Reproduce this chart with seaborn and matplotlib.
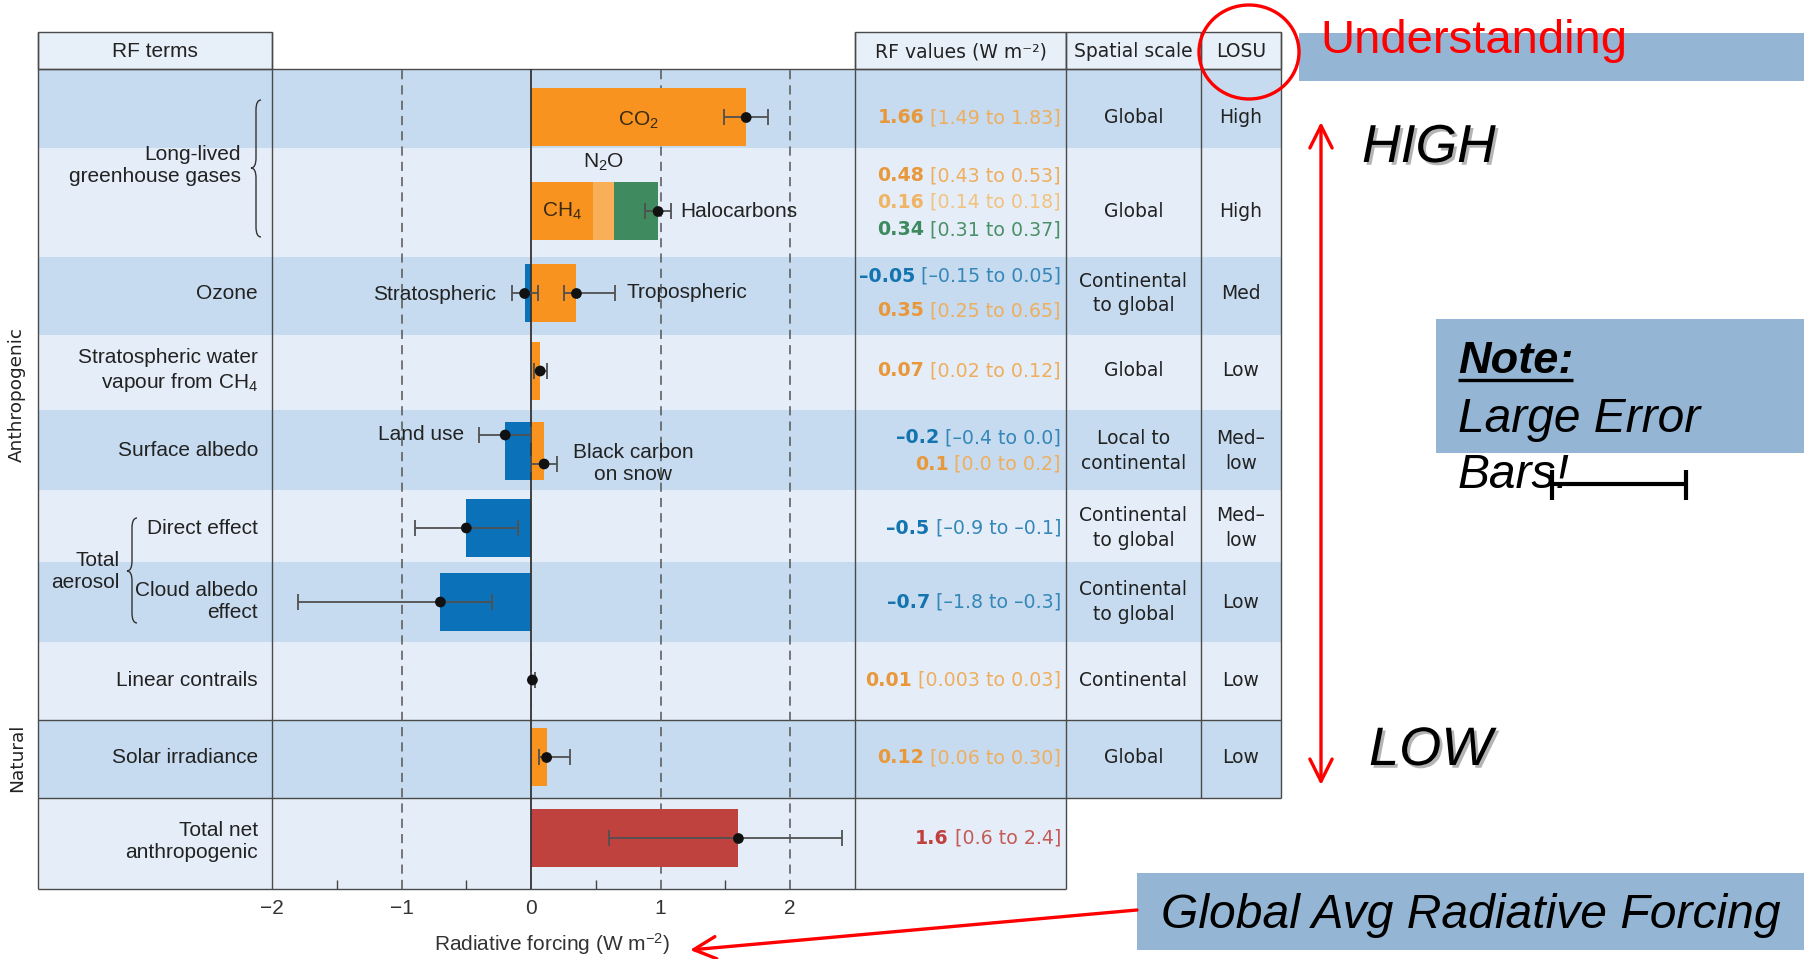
import matplotlib
matplotlib.use("Agg")
import matplotlib.pyplot as plt
from matplotlib.patches import Rectangle, Ellipse, FancyArrowPatch, PathPatch
from matplotlib.path import Path
import matplotlib.patheffects as pe
import numpy as np
import pandas as pd
import seaborn as sns

# ---------------------------------------------------------------- data
# Radiative forcing components (W m-2): best estimate with 90 % range
component = ["CO2", "CH4", "N2O", "Halocarbons", "Stratospheric ozone",
             "Tropospheric ozone", "Stratospheric water vapour", "Land use",
             "Black carbon on snow", "Aerosol direct effect",
             "Cloud albedo effect", "Linear contrails", "Solar irradiance",
             "Total net anthropogenic"]
rf_best = [1.66, 0.48, 0.16, 0.34, -0.05, 0.35, 0.07, -0.2, 0.1, -0.5, -0.7, 0.01, 0.12, 1.6]
rf_low = [1.49, 0.43, 0.14, 0.31, -0.15, 0.25, 0.02, -0.4, 0.0, -0.9, -1.8, 0.003, 0.06, 0.6]
rf_high = [1.83, 0.53, 0.18, 0.37, 0.05, 0.65, 0.12, 0.0, 0.2, -0.1, -0.3, 0.03, 0.30, 2.4]
rf_decimals = [2, 2, 2, 2, 2, 2, 2, 1, 1, 1, 1, 2, 2, 1]
row_of = [0, 1, 1, 1, 2, 2, 3, 4, 4, 5, 6, 7, 8, 9]
stacked_rows = [1]

row_terms = ["", "", "Ozone", "Stratospheric water\nvapour from CH$_4$", "Surface albedo",
             "Direct effect", "Cloud albedo\neffect", "Linear contrails",
             "Solar irradiance", "Total net\nanthropogenic"]
spatial_scale = ["Global", "Global", "Continental\nto global", "Global",
                 "Local to\ncontinental", "Continental\nto global",
                 "Continental\nto global", "Continental", "Global", ""]
losu = ["High", "High", "Med", "Low", "Med\u2013\nlow", "Med\u2013\nlow",
        "Low", "Low", "Low", ""]
x_ticks = [-2, -1, 0, 1, 2]

# ---------------------------------------------------------------- style
sns.set_theme(style="white")
SANS = ["Liberation Sans", "DejaVu Sans"]
VERD = ["DejaVu Sans"]
plt.rcParams["font.family"] = SANS
plt.rcParams["mathtext.fontset"] = "custom"
plt.rcParams["mathtext.rm"] = "Liberation Sans"
plt.rcParams["mathtext.it"] = "Liberation Sans:italic"
plt.rcParams["mathtext.bf"] = "Liberation Sans:bold"

bar_colors = {"CO2": "#f7931e", "CH4": "#f7931e", "N2O": "#f9ae58",
              "Halocarbons": "#3f8a5e", "Stratospheric ozone": "#0b72b9",
              "Tropospheric ozone": "#f7931e", "Stratospheric water vapour": "#f7931e",
              "Land use": "#0b72b9", "Black carbon on snow": "#f7931e",
              "Aerosol direct effect": "#0b72b9", "Cloud albedo effect": "#0b72b9",
              "Linear contrails": "#f7931e", "Solar irradiance": "#f7931e",
              "Total net anthropogenic": "#c0423f"}
text_colors = {"#f7931e": ("#e8983a", "#eeae5e"), "#f9ae58": ("#efb466", "#f2c27f"),
               "#3f8a5e": ("#3d8a5e", "#4a9068"), "#0b72b9": ("#1474b0", "#3587b8"),
               "#c0423f": ("#c0403e", "#c55a57")}
DARK_ROW, LIGHT_ROW, HEAD = "#c6dbef", "#e5eef8", "#e7eff9"
LINE = "#4a4a4a"
TXT = "#222222"

# ---------------------------------------------------------------- layout (pixels)
W, H = 1804, 959
X_LEFT, X_TERMS, X_VALUES, X_SCALE, X_LOSU, X_RIGHT = 38, 272, 855, 1066, 1201, 1281
Y_HEAD_TOP = 32
row_edges = [69, 148, 257, 335, 410, 490, 562, 642, 720, 798, 889]
bar_shift = [9, 9, -2.5, -1.5, 1, 2, 0, -1, -1.5, -5]
dot_shift = {"Land use": -16, "Black carbon on snow": 13}
text_line_gap = {1: 27, 2: 35, 4: 27}
BAR_H = 58

row_mid = [(a + b) / 2 for a, b in zip(row_edges[:-1], row_edges[1:])]
bar_mid = [m + s for m, s in zip(row_mid, bar_shift)]

fig = plt.figure(figsize=(W / 100, H / 100), dpi=100)
fig.patch.set_facecolor("white")

bg = fig.add_axes([0, 0, 1, 1], zorder=0)
bg.set_xlim(0, W)
bg.set_ylim(H, 0)
bg.axis("off")

ax = fig.add_axes([X_TERMS / W, 1 - row_edges[-1] / H, (X_VALUES - X_TERMS) / W,
                   (row_edges[-1] - row_edges[0]) / H], zorder=1)
ax.patch.set_alpha(0)

top = fig.add_axes([0, 0, 1, 1], zorder=2)
top.set_xlim(0, W)
top.set_ylim(H, 0)
top.axis("off")
top.patch.set_alpha(0)

# ---------------------------------------------------------------- table background
for r in range(len(row_edges) - 1):
    x_end = X_RIGHT if r < 9 else X_SCALE
    bg.add_patch(Rectangle((X_LEFT, row_edges[r]), x_end - X_LEFT,
                           row_edges[r + 1] - row_edges[r],
                           fc=DARK_ROW if r % 2 == 0 else LIGHT_ROW, ec="none"))

headers = [(X_LEFT, X_TERMS, "RF terms", SANS, 15),
           (X_VALUES, X_SCALE, "RF values (W m\u207b\u00b2)", VERD, 13.5),
           (X_SCALE, X_LOSU, "Spatial scale", VERD, 13.5),
           (X_LOSU, X_RIGHT, "LOSU", VERD, 13.5)]
for x0, x1, label, fam, fs in headers:
    bg.add_patch(Rectangle((x0, Y_HEAD_TOP), x1 - x0, row_edges[0] - Y_HEAD_TOP,
                           fc=HEAD, ec=LINE, lw=1.0))
    bg.text((x0 + x1) / 2, (Y_HEAD_TOP + row_edges[0]) / 2 + 1, label, ha="center",
            va="center", fontsize=fs, family=fam, color=TXT)

def hline(y, x0, x1):
    bg.plot([x0, x1], [y, y], color=LINE, lw=1.0, solid_capstyle="butt")

def vline(x, y0, y1):
    bg.plot([x, x], [y0, y1], color=LINE, lw=1.0, solid_capstyle="butt")

hline(row_edges[0], X_LEFT, X_RIGHT)
hline(row_edges[8], X_LEFT, X_RIGHT)
hline(row_edges[9], X_LEFT, X_RIGHT)
hline(row_edges[10], X_LEFT, X_SCALE)
for x in (X_LEFT, X_TERMS, X_VALUES, X_SCALE):
    vline(x, Y_HEAD_TOP, row_edges[10])
for x in (X_LOSU, X_RIGHT):
    vline(x, Y_HEAD_TOP, row_edges[9])

# ---------------------------------------------------------------- braces
def curly_brace(axis, x, y0, y1, w, ym=None, color="#333", lw=1.0):
    ym = (y0 + y1) / 2 if ym is None else ym
    r = min(2 * w, (y1 - y0) / 5)
    verts = [(x + w, y0), (x, y0), (x, y0 + r), (x, ym - r), (x, ym), (x - w, ym),
             (x, ym), (x, ym + r), (x, y1 - r), (x, y1), (x + w, y1)]
    codes = [Path.MOVETO, Path.CURVE3, Path.CURVE3, Path.LINETO, Path.CURVE3,
             Path.CURVE3, Path.CURVE3, Path.CURVE3, Path.LINETO, Path.CURVE3, Path.CURVE3]
    axis.add_patch(PathPatch(Path(verts, codes), fc="none", ec=color, lw=lw))

curly_brace(bg, 256, 100, 237, 5, ym=168)
curly_brace(bg, 132, 518, 623, 5, ym=571)

# ---------------------------------------------------------------- row labels
LABEL_FS = 15
bg.text(241, (row_edges[0] + row_edges[2]) / 2 + 2, "Long-lived\ngreenhouse gases",
        ha="right", va="center", multialignment="right", fontsize=LABEL_FS, color=TXT)
for r, term in enumerate(row_terms):
    if not term:
        continue
    y = bar_mid[r]
    if r == 9:
        y = row_mid[r] - 2
    bg.text(258, y, term, ha="right", va="center", multialignment="right",
            fontsize=LABEL_FS, color=TXT)
bg.text(120, 571, "Total\naerosol", ha="right", va="center", multialignment="right",
        fontsize=LABEL_FS, color=TXT)
bg.text(17, 394, "Anthropogenic", rotation=90, ha="center", va="center",
        fontsize=13.3, family=VERD, color=TXT)
bg.text(17, 758, "Natural", rotation=90, ha="center", va="center",
        fontsize=13.3, family=VERD, color=TXT)

# spatial scale and level of scientific understanding
for r in range(9):
    bg.text((X_SCALE + X_LOSU) / 2, bar_mid[r], spatial_scale[r], ha="center",
            va="center", multialignment="center", fontsize=13.5, family=VERD,
            color=TXT, linespacing=1.35)
    bg.text((X_LOSU + X_RIGHT) / 2, bar_mid[r], losu[r], ha="center",
            va="center", multialignment="center", fontsize=13.5, family=VERD,
            color=TXT, linespacing=1.35)

# ---------------------------------------------------------------- bars
stack_left = []
running = {}
for i, comp in enumerate(component):
    r = row_of[i]
    if r in stacked_rows:
        stack_left.append(running.get(r, 0.0))
        running[r] = running.get(r, 0.0) + rf_best[i]
    else:
        stack_left.append(0.0)

for i, comp in enumerate(component):
    ax.barh(bar_mid[row_of[i]], rf_best[i], left=stack_left[i], height=BAR_H,
            color=bar_colors[comp], lw=0, zorder=2)

# reference lines
for xv in x_ticks:
    if xv in (-2, 0):
        continue
    ax.axvline(xv, color="#555555", lw=1.1, ls=(0, (6, 4)), zorder=1)
ax.axvline(0, color="#333333", lw=1.3, zorder=3)

# uncertainty ranges and best-estimate dots
err_x, err_lo, err_hi, err_y = [], [], [], []
for i, comp in enumerate(component):
    r = row_of[i]
    if r in stacked_rows:
        continue
    err_x.append(rf_best[i])
    err_lo.append(rf_low[i])
    err_hi.append(rf_high[i])
    err_y.append(bar_mid[r] + dot_shift.get(comp, 0))
for r in stacked_rows:
    idx = [i for i in range(len(component)) if row_of[i] == r]
    err_x.append(sum(rf_best[i] for i in idx))
    err_lo.append(sum(rf_low[i] for i in idx))
    err_hi.append(sum(rf_high[i] for i in idx))
    err_y.append(bar_mid[r])
err_x, err_lo, err_hi = map(np.array, (err_x, err_lo, err_hi))
ax.errorbar(err_x, err_y, xerr=[err_x - err_lo, err_hi - err_x], fmt="none",
            ecolor="#505050", elinewidth=1.3, capsize=6, capthick=1.3, zorder=4)
dots = pd.DataFrame({"forcing": err_x, "pos": err_y})
sns.scatterplot(data=dots, x="forcing", y="pos", ax=ax, color="#111111", s=60,
                edgecolor="none", zorder=5, legend=False)

# in-plot component labels
ci = {c: i for i, c in enumerate(component)}
bar_top1 = bar_mid[1] - BAR_H / 2
ax.text(rf_best[ci["CO2"]] / 2, bar_mid[0] + 3, "CO$_2$", ha="center", va="center",
        fontsize=15, color="#3b2a14", zorder=6)
ax.text(rf_best[ci["CH4"]] / 2, bar_mid[1], "CH$_4$", ha="center", va="center",
        fontsize=15, color="#3b2a14", zorder=6)
ax.text(stack_left[ci["N2O"]] + rf_best[ci["N2O"]] / 2, bar_top1 - 20, "N$_2$O",
        ha="center", va="center", fontsize=15, color=TXT)
ax.text(err_hi[-1] + 0.07, bar_mid[1], "Halocarbons", ha="left", va="center",
        fontsize=15, color=TXT)
ax.text(rf_low[ci["Stratospheric ozone"]] - 0.12, bar_mid[2] + 1, "Stratospheric",
        ha="right", va="center", fontsize=15, color=TXT)
ax.text(rf_high[ci["Tropospheric ozone"]] + 0.09, bar_mid[2] - 1, "Tropospheric",
        ha="left", va="center", fontsize=15, color=TXT)
ax.text(rf_low[ci["Land use"]] - 0.12, bar_mid[4] + dot_shift["Land use"],
        "Land use", ha="right", va="center", fontsize=15, color=TXT)
ax.text(rf_high[ci["Black carbon on snow"]] + 0.12,
        bar_mid[4] + dot_shift["Black carbon on snow"], "Black carbon\non snow",
        ha="left", va="center", multialignment="center", fontsize=15, color=TXT)

# axis
ax.set_xlim(-2, 2.5)
ax.set_ylim(row_edges[-1], row_edges[0])
ax.set_yticks([])
ax.set_ylabel("")
ax.set_xticks(x_ticks)
ax.set_xticklabels([("\u2212" if v < 0 else "") + str(abs(v)) for v in x_ticks])
ax.set_xticks([-1.5, -0.5, 0.5, 1.5], minor=True)
ax.tick_params(axis="x", which="major", length=0, pad=7, labelsize=15,
               labelcolor="#333333", bottom=True)
ax.tick_params(axis="x", which="minor", direction="in", length=6.5, width=1.0,
               color="#444444", bottom=True)
for s in ax.spines.values():
    s.set_visible(False)
ax.grid(False)
ax.set_xlabel("Radiative forcing (W m$^{-2}$)", fontsize=15, color="#333333")
ax.xaxis.set_label_coords((552 - X_TERMS) / (X_VALUES - X_TERMS),
                          -(931 - row_edges[-1]) / (row_edges[-1] - row_edges[0]))

# ---------------------------------------------------------------- RF value column
def fmt(v, d):
    frac = repr(abs(float(v))).split(".")[1].rstrip("0")
    d = max(d, len(frac))
    return ("\u2013" if v < 0 else "") + f"{abs(v):.{d}f}"

for r in range(len(row_edges) - 1):
    idx = [i for i in range(len(component)) if row_of[i] == r]
    n = len(idx)
    gap = text_line_gap.get(r, 0)
    mid = row_mid[r] if r == 1 else bar_mid[r]
    for k, i in enumerate(idx):
        y = mid + (k - (n - 1) / 2) * gap
        c_val, c_rng = text_colors[bar_colors[component[i]]]
        d = rf_decimals[i]
        t_rng = bg.text(1061, y, f" [{fmt(rf_low[i], d)} to {fmt(rf_high[i], d)}]",
                        ha="right", va="center", fontsize=13.7, family=VERD, color=c_rng)
        bg.annotate(fmt(rf_best[i], d), xy=(0, 0.5), xycoords=t_rng, ha="right",
                    va="center", fontsize=13.7, family=VERD, color=c_val,
                    fontweight="bold")

# ---------------------------------------------------------------- slide annotations
BOX = "#94b6d4"
RED = "#ff0000"
top.add_patch(Rectangle((1299, 33), W - 1299, 48, fc=BOX, ec="none"))
top.text(1320, 53, "Understanding", ha="left", va="baseline", fontsize=34, color=RED)
top.add_patch(Ellipse((1249, 52), 100, 94, fc="none", ec=RED, lw=2.4))

shadow = [pe.withSimplePatchShadow(offset=(2, -2), shadow_rgbFace="#777777", alpha=0.55)]
top.text(1362, 162, "HIGH", ha="left", va="baseline", fontsize=38.5, style="italic",
         color="black", path_effects=shadow)
top.text(1369, 765, "LOW", ha="left", va="baseline", fontsize=39, style="italic",
         color="black", path_effects=shadow)
top.add_patch(FancyArrowPatch((1321, 785), (1321, 122), arrowstyle="<->,head_length=1.6,head_width=0.8",
                              mutation_scale=10, color=RED, lw=2.4, shrinkA=0, shrinkB=0))

top.add_patch(Rectangle((1436, 319), W - 1436, 134, fc=BOX, ec="none"))
note = top.text(1458, 373, "Note:", ha="left", va="baseline", fontsize=32.5,
                style="italic", fontweight="bold", color="black")
top.text(1458, 432, "Large Error", ha="left", va="baseline", fontsize=34.5,
         style="italic", color="black")
top.text(1458, 488, "Bars!", ha="left", va="baseline", fontsize=34.5,
         style="italic", color="black")
fig.canvas.draw()
bb = note.get_window_extent()
x0n, _ = top.transData.inverted().transform((bb.x0, bb.y0))
x1n, _ = top.transData.inverted().transform((bb.x1, bb.y0))
top.plot([x0n, x1n], [380, 380], color="black", lw=2.4, solid_capstyle="butt")
top.plot([1552, 1686], [484, 484], color="black", lw=3, solid_capstyle="butt")
top.plot([1552, 1552], [470, 500], color="black", lw=3, solid_capstyle="butt")
top.plot([1686, 1686], [470, 500], color="black", lw=3, solid_capstyle="butt")

top.add_patch(Rectangle((1137, 873), W - 1137, 77, fc=BOX, ec="none"))
top.text(1161, 928, "Global Avg Radiative Forcing", ha="left", va="baseline",
         fontsize=34.6, style="italic", color="black")
top.add_patch(FancyArrowPatch((1137, 910), (690, 950), arrowstyle="->,head_length=1.6,head_width=0.8",
                              mutation_scale=10, color=RED, lw=2.4, shrinkA=0, shrinkB=0))

fig.savefig("out.png", dpi=100, facecolor="white")
